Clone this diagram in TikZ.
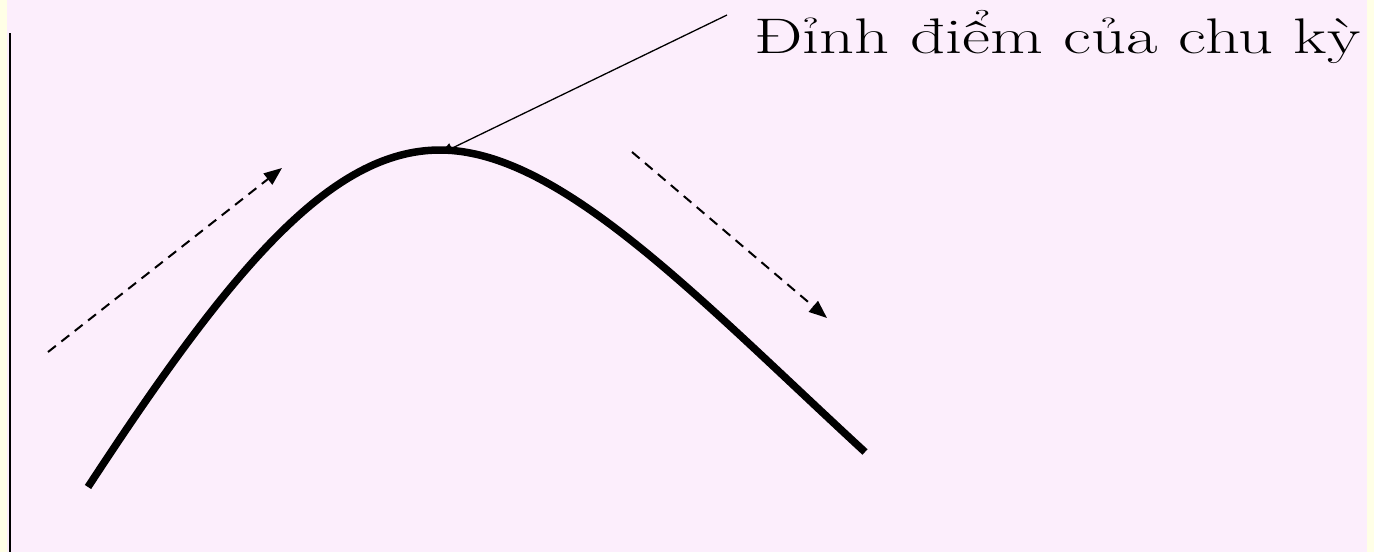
\documentclass[tikz,border=0pt]{standalone}
\usepackage{fontspec}
\usepackage{tikz}
\usetikzlibrary{arrows.meta, positioning}
\definecolor{pagebg}{HTML}{FCEEFC}
\definecolor{edgebg}{HTML}{FFFFE6}

\begin{document}
\begin{tikzpicture}[x=1pt, y=-1pt, >={Triangle[length=18pt, width=14pt]},
    trend/.style={->, dash pattern=on 10pt off 7pt, line width=2pt},
    pointer/.style={->, >={Triangle[length=13pt, width=11pt]}, line width=1.3pt},
    cyclecurve/.style={line width=7.5pt}]
        \useasboundingbox (0,0) rectangle (1374,552);
        \fill[edgebg] (0,0) rectangle (1374,552);
        \fill[pagebg] (7,0) rectangle (1367,552);
        \draw[line width=2pt] (10,33) -- (10,552);

        \coordinate (start) at (88,487);
        \coordinate (peak) at (440,150);
        \coordinate (end) at (865,452);
        \coordinate (upfrom) at (48,352);
        \coordinate (upto) at (282,168);
        \coordinate (downfrom) at (632,152);
        \coordinate (downto) at (827,318);
        \coordinate (leadstart) at (727,15);
        \node[anchor=base west, inner sep=0pt, font=\fontsize{50}{60}\selectfont] (label) at (754,53)
            {\scalebox{1.37}[1]{Đỉnh điểm của chu kỳ}};

        \draw[cyclecurve] (start) .. controls (230,270) and (330,150) .. (peak)
              .. controls (560,150) and (700,300) .. (end);
        \draw[trend] (upfrom) -- (upto);
        \draw[trend] (downfrom) -- (downto);
        \draw[pointer] (leadstart) -- ([yshift=-4pt]peak);
    \end{tikzpicture}
\end{document}
